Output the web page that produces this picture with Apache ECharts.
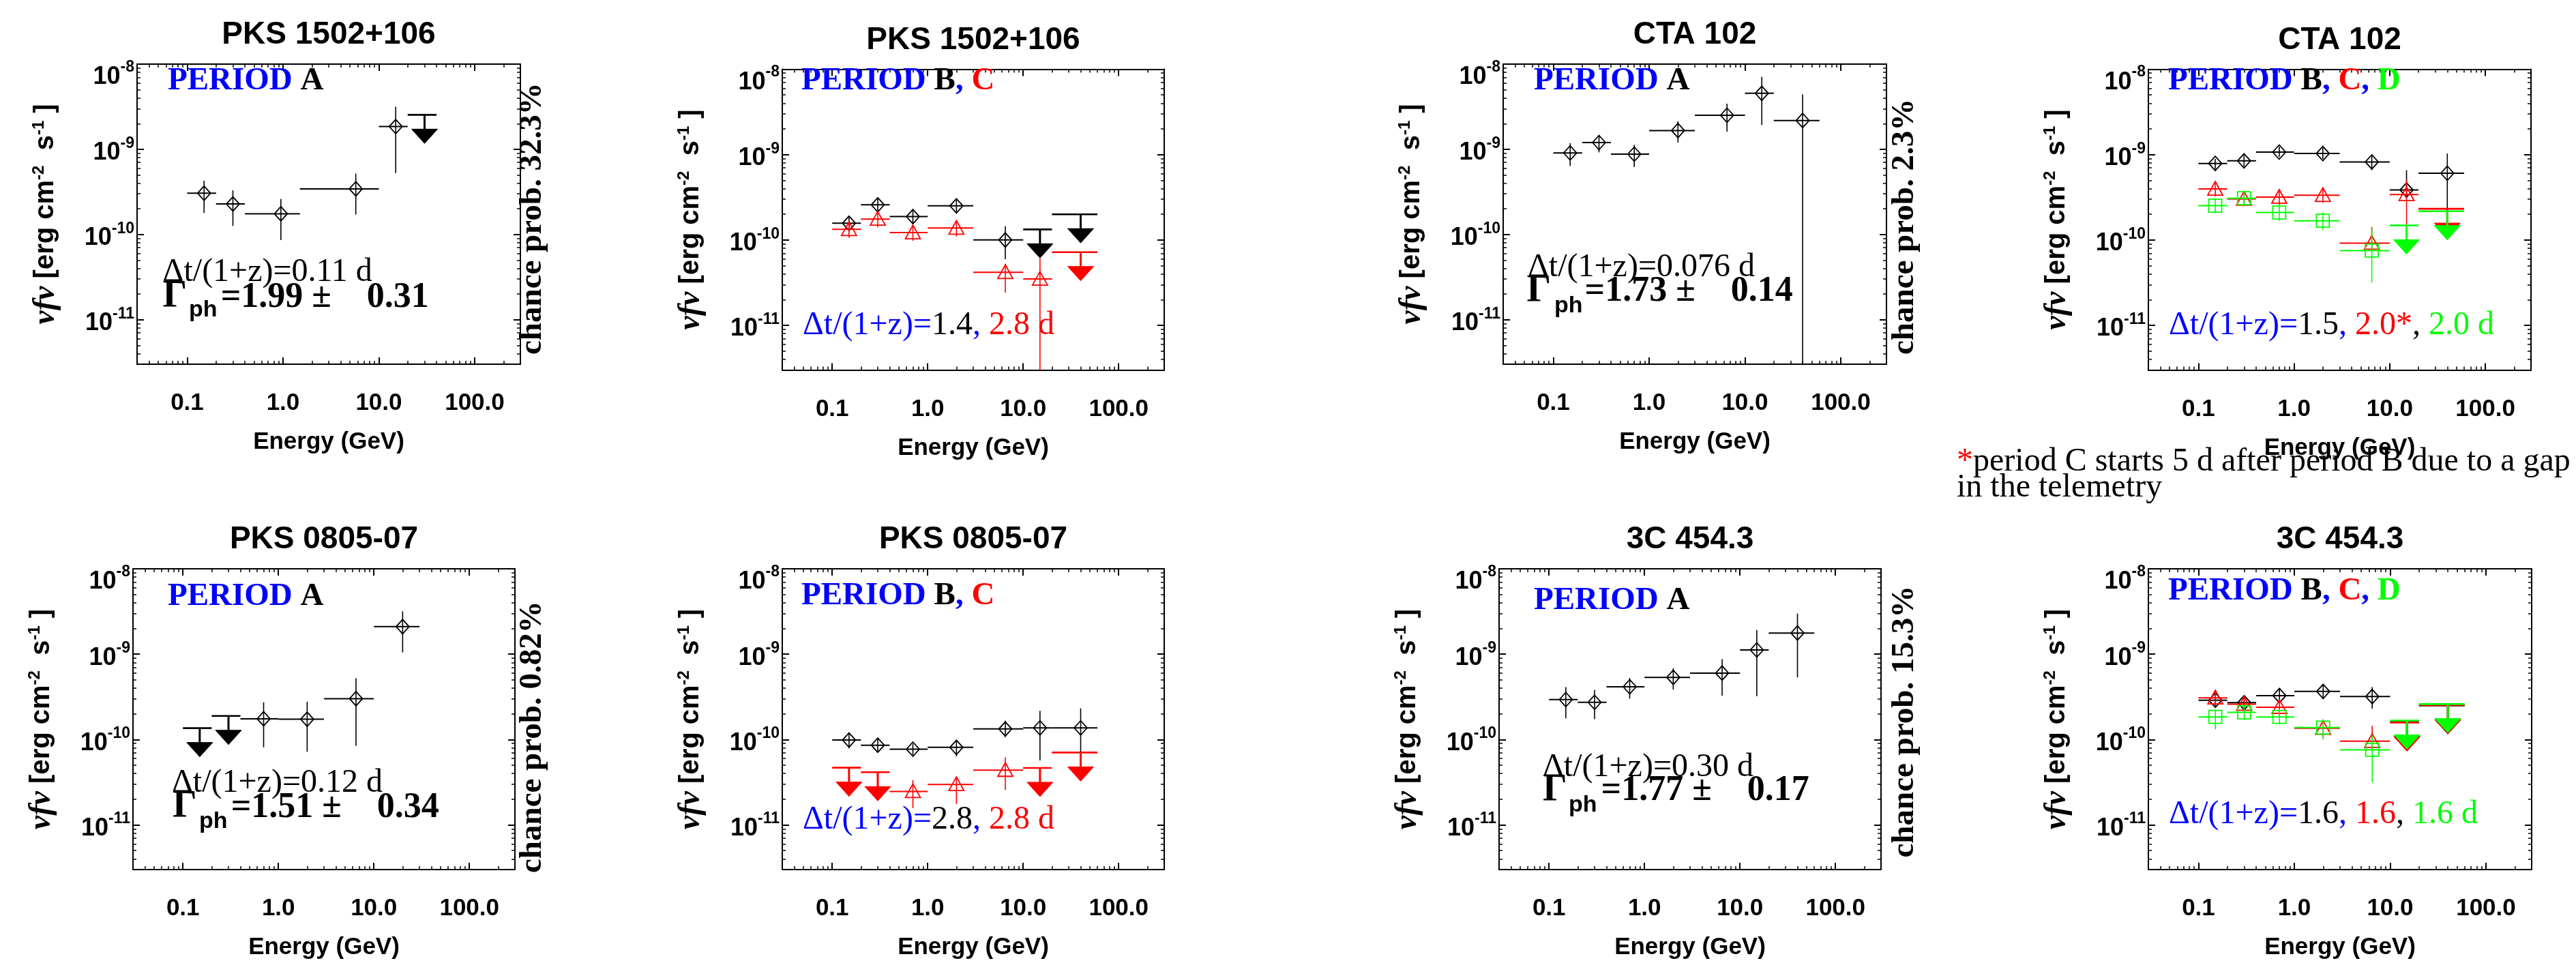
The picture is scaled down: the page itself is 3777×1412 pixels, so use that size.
<!DOCTYPE html>
<html>
<head>
<meta charset="utf-8">
<script src="https://cdn.jsdelivr.net/npm/echarts@6/dist/echarts.min.js"></script>
<style>html,body{margin:0;padding:0;background:#fff}#c{width:3777px;height:1412px}</style>
</head>
<body>
<div id="c"></div>
<script>
// ===================== DATA =====================
const X_MIN = 0.03, X_MAX = 300;
const Y_MIN = 3e-12, Y_MAX = 1e-8;
const X_TICKS = [0.1, 1, 10, 100];
const X_TICK_LABELS = ['0.1', '1.0', '10.0', '100.0'];
const X_MINOR = [0.04, 0.05, 0.06, 0.07, 0.08, 0.09, 0.2, 0.3, 0.4, 0.5, 0.6, 0.7, 0.8, 0.9,
                 2, 3, 4, 5, 6, 7, 8, 9, 20, 30, 40, 50, 60, 70, 80, 90, 200];
const Y_TICKS = [1e-11, 1e-10, 1e-9, 1e-8];
const Y_TICK_EXP = ['-11', '-10', '-9', '-8'];
const Y_MINOR = [4e-12, 5e-12, 6e-12, 7e-12, 8e-12, 9e-12,
                 2e-11, 3e-11, 4e-11, 5e-11, 6e-11, 7e-11, 8e-11, 9e-11,
                 2e-10, 3e-10, 4e-10, 5e-10, 6e-10, 7e-10, 8e-10, 9e-10,
                 2e-9, 3e-9, 4e-9, 5e-9, 6e-9, 7e-9, 8e-9, 9e-9];

const TITLES = ['PKS 1502+106', 'PKS 1502+106', 'CTA 102', 'CTA 102',
                'PKS 0805-07', 'PKS 0805-07', '3C 454.3', '3C 454.3'];

// energy bins (GeV): point energy, bin low, bin high
const E_STD    = [0.15, 0.3, 0.7, 2.0, 6.5, 15, 40];
const E_STD_LO = [0.1, 0.2, 0.4, 1, 3, 10, 20];
const E_STD_HI = [0.2, 0.4, 1, 3, 10, 20, 60];
const E_P1     = [0.15, 0.3, 0.95, 5.75, 15, 30];
const E_P1_LO  = [0.1, 0.2, 0.4, 1.5, 10, 20];
const E_P1_HI  = [0.2, 0.4, 1.5, 10, 20, 40];
const E_P5     = [0.15, 0.3, 0.7, 2.0, 6.5, 20];
const E_P5_LO  = [0.1, 0.2, 0.4, 1, 3, 10];
const E_P5_HI  = [0.2, 0.4, 1, 3, 10, 30];

// flux nuFnu (erg cm^-2 s^-1); LO/HI = error bar ends; UL = 1 for upper limit (value = limit)
// Panel 1: PKS 1502+106, period A
const P1A_F  = [3.05e-10, 2.28e-10, 1.75e-10, 3.43e-10, 1.85e-9, 2.54e-9];
const P1A_LO = [1.79e-10, 1.26e-10, 8.6e-11, 1.71e-10, 5.26e-10, null];
const P1A_HI = [4.27e-10, 3.3e-10, 2.61e-10, 5.18e-10, 3.16e-9, null];
const P1A_UL = [0, 0, 0, 0, 0, 1];
// Panel 2: PKS 1502+106, periods B (black) and C (red)
const P2B_F  = [1.57e-10, 2.58e-10, 1.88e-10, 2.51e-10, 1.0e-10, 1.33e-10, 2.0e-10];
const P2B_LO = [1.33e-10, 2.13e-10, 1.54e-10, 2.05e-10, 5.96e-11, null, null];
const P2B_HI = [1.85e-10, 3.08e-10, 2.26e-10, 2.96e-10, 1.45e-10, null, null];
const P2B_UL = [0, 0, 0, 0, 0, 1, 1];
const P2C_F  = [1.33e-10, 1.76e-10, 1.22e-10, 1.38e-10, 4.18e-11, 3.49e-11, 7.2e-11];
const P2C_LO = [1.06e-10, 1.41e-10, 9.8e-11, 1.1e-10, 2.41e-11, 1e-12, null];
const P2C_HI = [1.54e-10, 2.13e-10, 1.47e-10, 1.63e-10, 5.26e-11, 6.1e-11, null];
const P2C_UL = [0, 0, 0, 0, 0, 0, 1];
// Panel 3: CTA 102, period A
const P3A_F  = [9.06e-10, 1.2e-9, 8.77e-10, 1.66e-9, 2.51e-9, 4.54e-9, 2.18e-9];
const P3A_LO = [6.37e-10, 9.2e-10, 6.2e-10, 1.2e-9, 1.61e-9, 1.93e-9, 1e-12];
const P3A_HI = [1.18e-9, 1.45e-9, 1.13e-9, 2.13e-9, 3.43e-9, 7.08e-9, 4.4e-9];
const P3A_UL = [0, 0, 0, 0, 0, 0, 0];
// Panel 4: CTA 102, periods B (black), C (red), D (green)
const P4B_F  = [7.87e-10, 8.45e-10, 1.07e-9, 1.03e-9, 8.2e-10, 3.85e-10, 6.05e-10];
const P4B_LO = [6.76e-10, 7.27e-10, 9.35e-10, 8.89e-10, 6.57e-10, 3.08e-10, 2.28e-10];
const P4B_HI = [8.9e-10, 9.84e-10, 1.24e-9, 1.2e-9, 9.84e-10, 6.57e-10, 1.03e-9];
const P4B_UL = [0, 0, 0, 0, 0, 0, 0];
const P4C_F  = [3.96e-10, 3.02e-10, 3.18e-10, 3.34e-10, 9.19e-11, 3.41e-10, 2.32e-10];
const P4C_LO = [3.24e-10, 2.52e-10, 2.57e-10, 2.73e-10, 7.5e-11, 1.52e-10, null];
const P4C_HI = [4.85e-10, 3.59e-10, 3.77e-10, 3.97e-10, 1.42e-10, 5.1e-10, null];
const P4C_UL = [0, 0, 0, 0, 0, 0, 1];
const P4D_F  = [2.52e-10, 3.08e-10, 2.1e-10, 1.68e-10, 7.51e-11, 1.48e-10, 2.17e-10];
const P4D_LO = [2.06e-10, 2.47e-10, 1.68e-10, 1.31e-10, 3.18e-11, null, null];
const P4D_HI = [3.08e-10, 3.7e-10, 2.65e-10, 2.1e-10, 1.37e-10, null, null];
const P4D_UL = [0, 0, 0, 0, 0, 1, 1];
// Panel 5: PKS 0805-07, period A
const P5A_F  = [1.36e-10, 1.89e-10, 1.75e-10, 1.73e-10, 3.01e-10, 2.1e-9];
const P5A_LO = [null, null, 8.1e-11, 7.2e-11, 8.46e-11, 1.05e-9];
const P5A_HI = [null, null, 2.73e-10, 2.77e-10, 5.22e-10, 3.17e-9];
const P5A_UL = [1, 1, 0, 0, 0, 0];
// Panel 6: PKS 0805-07, periods B (black) and C (red)
const P6B_F  = [9.87e-11, 8.59e-11, 7.71e-11, 8.1e-11, 1.33e-10, 1.37e-10, 1.37e-10];
const P6B_LO = [7.9e-11, 7.17e-11, 6.6e-11, 6.34e-11, 1.07e-10, 5.7e-11, 3.6e-11];
const P6B_HI = [1.16e-10, 1.01e-10, 8.95e-11, 9.8e-11, 1.66e-10, 2.17e-10, 2.32e-10];
const P6B_UL = [0, 0, 0, 0, 0, 0, 0];
const P6C_F  = [4.68e-11, 4.14e-11, 2.47e-11, 2.98e-11, 4.38e-11, 4.65e-11, 7.05e-11];
const P6C_LO = [null, null, 1.57e-11, 1.76e-11, 2.57e-11, null, null];
const P6C_HI = [null, null, 3.34e-11, 3.6e-11, 6.18e-11, null, null];
const P6C_UL = [1, 1, 0, 0, 0, 1, 1];
// Panel 7: 3C 454.3, period A
const P7A_F  = [2.94e-10, 2.73e-10, 4.15e-10, 5.35e-10, 6.0e-10, 1.12e-9, 1.77e-9];
const P7A_LO = [1.77e-10, 1.73e-10, 3.01e-10, 3.85e-10, 3.27e-10, 3.22e-10, 5.35e-10];
const P7A_HI = [4.11e-10, 3.8e-10, 5.26e-10, 6.84e-10, 8.75e-10, 1.91e-9, 2.99e-9];
const P7A_UL = [0, 0, 0, 0, 0, 0, 0];
// Panel 8: 3C 454.3, periods B (black), C (red), D (green)
const P8B_F  = [2.89e-10, 2.7e-10, 3.27e-10, 3.66e-10, 3.19e-10, 1.6e-10, 2.51e-10];
const P8B_LO = [2.45e-10, 2.26e-10, 2.73e-10, 3.01e-10, 2.3e-10, null, null];
const P8B_HI = [3.55e-10, 3.27e-10, 3.92e-10, 4.36e-10, 4.12e-10, null, null];
const P8B_UL = [0, 0, 0, 0, 0, 1, 1];
const P8C_F  = [3.08e-10, 2.6e-10, 2.39e-10, 1.36e-10, 9.55e-11, 1.58e-10, 2.53e-10];
const P8C_LO = [2.55e-10, 2.08e-10, 1.91e-10, 1.04e-10, 7.5e-11, null, null];
const P8C_HI = [3.7e-10, 3.27e-10, 3.0e-10, 1.69e-10, 1.45e-10, null, null];
const P8C_UL = [0, 0, 0, 0, 0, 1, 1];
const P8D_F  = [1.84e-10, 2.08e-10, 1.84e-10, 1.38e-10, 7.58e-11, 1.67e-10, 2.6e-10];
const P8D_LO = [1.32e-10, 1.69e-10, 1.51e-10, 1.0e-10, 3.15e-11, null, null];
const P8D_HI = [2.26e-10, 2.56e-10, 2.26e-10, 1.73e-10, 1.12e-10, null, null];
const P8D_UL = [0, 0, 0, 0, 0, 1, 1];

// annotation texts
const GAMMA_TEXT  = ['=1.99 \u00b1    0.31', null, '=1.73 \u00b1    0.14', null, '=1.51 \u00b1    0.34', null, '=1.77 \u00b1    0.17', null];
const CHANCE_TEXT = ['chance prob. 32.3%', null, 'chance prob. 2.3%', null, 'chance prob. 0.82%', null, 'chance prob. 15.3%', null];

// ===================== STYLE / LAYOUT =====================
const SANS = "'Liberation Sans', Arial, Helvetica, sans-serif";
const SERIF = "'Liberation Serif', 'Times New Roman', Times, serif";
const BLUE = '#0000ff', RED = '#ff0000', GREEN = '#00ff00', BLACK = '#000000';

const PERIOD_TOKENS = {
  A: [['PERIOD ', BLUE], ['A', BLACK]],
  BC: [['PERIOD ', BLUE], ['B', BLACK], [', ', BLUE], ['C', RED]],
  BCD: [['PERIOD ', BLUE], ['B', BLACK], [', ', BLUE], ['C', RED], [', ', BLUE], ['D', GREEN]]
};
const DT_TOKENS = [
  [['\u0394t/(1+z)=0.11 d', BLACK]],
  [['\u0394t/(1+z)=', BLUE], ['1.4', BLACK], [', ', BLUE], ['2.8 d', RED]],
  [['\u0394t/(1+z)=0.076 d', BLACK]],
  [['\u0394t/(1+z)=', BLUE], ['1.5', BLACK], [', ', BLUE], ['2.0*', RED], [', ', BLACK], ['2.0 d', GREEN]],
  [['\u0394t/(1+z)=0.12 d', BLACK]],
  [['\u0394t/(1+z)=', BLUE], ['2.8', BLACK], [', ', BLUE], ['2.8 d', RED]],
  [['\u0394t/(1+z)=0.30 d', BLACK]],
  [['\u0394t/(1+z)=', BLUE], ['1.6', BLACK], [', ', BLUE], ['1.6', RED], [', ', BLACK], ['1.6 d', GREEN]]
];

// box: [left, top, width, height]; text anchors are [x, baseline]
const LAYOUT = [
  {box: [201, 94, 562, 440], period: 'A', pos: [246, 135], dt: [238.6, 416], gam: [238.6, 455], ph: [277, 466], val: [323.7, 454.5], chance: [797, 520]},
  {box: [1147, 101.5, 560, 441], period: 'BC', pos: [1175, 135], dt: [1177, 493.3]},
  {box: [2204, 94, 562, 440], period: 'A', pos: [2249, 135], dt: [2240, 408.5], gam: [2238.5, 446.4], ph: [2279, 460], val: [2323.6, 445.5], chance: [2809, 520]},
  {box: [3150, 101.5, 561, 441], period: 'BCD', pos: [3179, 134.4], dt: [3180, 493.6]},
  {box: [195, 834, 560, 441], period: 'A', pos: [246, 890.6], dt: [252, 1165], gam: [253, 1203], ph: [292, 1216.5], val: [338.7, 1202], chance: [797, 1280]},
  {box: [1147, 834, 560, 441], period: 'BC', pos: [1175, 889.7], dt: [1177, 1218.7]},
  {box: [2198, 834, 560, 441], period: 'A', pos: [2249, 897.3], dt: [2262, 1141.5], gam: [2262, 1178.5], ph: [2300, 1192], val: [2347.6, 1177.6], chance: [2809, 1257.5]},
  {box: [3150, 834, 562, 441], period: 'BCD', pos: [3179, 882.5], dt: [3180, 1211]}
];

// ===================== BUILD =====================
const K_MID = 0.34; // baseline -> middle offset (fraction of font size)

function near(v, arr) {
  for (let i = 0; i < arr.length; i++) {
    if (Math.abs(Math.log10(v) - Math.log10(arr[i])) < 1e-6) return i;
  }
  return -1;
}
function fmtX(v) { const i = near(v, X_TICKS); return i >= 0 ? X_TICK_LABELS[i] : ''; }
function fmtY(v) {
  const i = near(v, Y_TICKS);
  if (i < 0) return '';
  // the top label sits a little lower (inside the frame), as in the original
  return i === Y_TICKS.length - 1 ? '{bt|10}{st|' + Y_TICK_EXP[i] + '}' : '{b|10}{s|' + Y_TICK_EXP[i] + '}';
}

const grids = [], xAxes = [], yAxes = [], series = [], gfx = [];

const lineSt = {color: '#000', width: 2};
const majTick = (vals) => ({show: true, inside: true, length: 10, customValues: vals, lineStyle: {color: '#000', width: 2}});
const minTick = (vals) => ({show: true, inside: true, length: 5, customValues: vals, lineStyle: {color: '#000', width: 1.5}});

function richText(tokens, x, base, weight, size) {
  const rich = {};
  let text = '';
  tokens.forEach((t, k) => {
    rich['t' + k] = {fill: t[1], fontFamily: SERIF, fontWeight: weight, fontSize: size};
    text += '{t' + k + '|' + t[0] + '}';
  });
  return {type: 'text', x: x, y: base - K_MID * size, z: 50,
    style: {text: text, rich: rich, font: weight + ' ' + size + 'px ' + SERIF, fill: '#000', align: 'left', verticalAlign: 'middle'}};
}

const YRICH = {
  b:  {fontFamily: SANS, fontWeight: 'bold', fontSize: 36, lineHeight: 36, color: '#000', padding: [11, 0, 0, 0]},
  s:  {fontFamily: SANS, fontWeight: 'bold', fontSize: 23, lineHeight: 36, color: '#000', padding: [0, 0, 17, 0]},
  bt: {fontFamily: SANS, fontWeight: 'bold', fontSize: 36, lineHeight: 36, color: '#000', padding: [39, 0, 0, 0]},
  st: {fontFamily: SANS, fontWeight: 'bold', fontSize: 23, lineHeight: 36, color: '#000', padding: [9, 0, 0, 0]}
};

LAYOUT.forEach((L, g) => {
  const [bx, by, bw, bh] = L.box;
  grids.push({left: bx, top: by, width: bw, height: bh, containLabel: false, outerBoundsMode: 'none', show: false});
  const cx = {type: 'log', logBase: 10, gridIndex: g, min: X_MIN, max: X_MAX, splitLine: {show: false},
              minorTick: {show: false}, minorSplitLine: {show: false}, silent: true};
  xAxes.push(Object.assign({}, cx, {
    position: 'bottom', axisLine: {show: true, onZero: false, lineStyle: lineSt}, axisTick: majTick(X_TICKS),
    axisLabel: {show: true, customValues: X_TICKS, formatter: fmtX, margin: 40, color: '#000',
                fontFamily: SANS, fontWeight: 'bold', fontSize: 35, hideOverlap: false},
    name: 'Energy (GeV)', nameLocation: 'middle', nameGap: 97,
    nameTextStyle: {color: '#000', fontFamily: SANS, fontWeight: 'bold', fontSize: 35}
  }));
  xAxes.push(Object.assign({}, cx, {position: 'bottom', axisLine: {show: false}, axisTick: minTick(X_MINOR), axisLabel: {show: false}}));
  xAxes.push(Object.assign({}, cx, {position: 'top', axisLine: {show: true, onZero: false, lineStyle: lineSt}, axisTick: majTick(X_TICKS), axisLabel: {show: false}}));
  xAxes.push(Object.assign({}, cx, {position: 'top', axisLine: {show: false}, axisTick: minTick(X_MINOR), axisLabel: {show: false}}));

  const cy = {type: 'log', logBase: 10, gridIndex: g, min: Y_MIN, max: Y_MAX, splitLine: {show: false},
              minorTick: {show: false}, minorSplitLine: {show: false}, silent: true};
  yAxes.push(Object.assign({}, cy, {
    position: 'left', axisLine: {show: true, onZero: false, lineStyle: lineSt}, axisTick: majTick(Y_TICKS),
    axisLabel: {show: true, customValues: Y_TICKS, formatter: fmtY, margin: 4, color: '#000', hideOverlap: false,
                rich: YRICH},
    name: '{g|\u03bdf\u03bd} {b|[erg cm}{s|-2}{b|  s}{s|-1} {b|]}', nameLocation: 'middle', nameGap: 112, nameRotate: 90,
    nameTextStyle: {color: '#000', fontFamily: SANS, fontWeight: 'bold', fontSize: 40,
      rich: {
        g: {fontFamily: SERIF, fontStyle: 'italic', fontWeight: 'bold', fontSize: 46, lineHeight: 44, color: '#000'},
        b: {fontFamily: SANS, fontWeight: 'bold', fontSize: 40, lineHeight: 44, color: '#000'},
        s: {fontFamily: SANS, fontWeight: 'bold', fontSize: 24, lineHeight: 14, verticalAlign: 'top', color: '#000'}
      }}
  }));
  yAxes.push(Object.assign({}, cy, {position: 'left', axisLine: {show: false}, axisTick: minTick(Y_MINOR), axisLabel: {show: false}}));
  yAxes.push(Object.assign({}, cy, {position: 'right', axisLine: {show: true, onZero: false, lineStyle: lineSt}, axisTick: majTick(Y_TICKS), axisLabel: {show: false}}));
  yAxes.push(Object.assign({}, cy, {position: 'right', axisLine: {show: false}, axisTick: minTick(Y_MINOR), axisLabel: {show: false}}));

  // title
  gfx.push({type: 'text', x: bx + bw / 2, y: by - 27 - K_MID * 46, z: 50,
    style: {text: TITLES[g], fill: '#000', font: 'bold 46px ' + SANS, align: 'center', verticalAlign: 'middle'}});

  gfx.push(richText(PERIOD_TOKENS[L.period], L.pos[0], L.pos[1], 'bold', 47));
  gfx.push(richText(DT_TOKENS[g], L.dt[0], L.dt[1], 'normal', 48));
  if (L.gam) {
    gfx.push({type: 'text', x: L.gam[0], y: L.gam[1] - K_MID * 56, z: 50,
      style: {text: '\u0393', fill: '#000', font: 'bold 56px ' + SERIF, align: 'left', verticalAlign: 'middle'}});
    gfx.push({type: 'text', x: L.ph[0], y: L.ph[1] - K_MID * 34, z: 50,
      style: {text: 'ph', fill: '#000', font: 'bold 34px ' + SANS, align: 'left', verticalAlign: 'middle'}});
    gfx.push({type: 'text', x: L.val[0], y: L.val[1] - K_MID * 52, z: 50,
      style: {text: GAMMA_TEXT[g], fill: '#000', font: 'bold 52px ' + SERIF, align: 'left', verticalAlign: 'middle'}});
    gfx.push({type: 'text', x: L.chance[0] - K_MID * 47, y: L.chance[1], rotation: Math.PI / 2, z: 50,
      style: {text: CHANCE_TEXT[g], fill: '#000', font: 'bold 47px ' + SERIF, align: 'left', verticalAlign: 'middle'}});
  }
});

// footnote
gfx.push({type: 'text', x: 2869, y: 694 - K_MID * 48, z: 50,
  style: {text: '{r|*}{k|period C starts 5 d after period B due to a gap}',
    rich: {r: {fill: RED, fontFamily: SERIF, fontSize: 48}, k: {fill: BLACK, fontFamily: SERIF, fontSize: 48}},
    font: '48px ' + SERIF, align: 'left', verticalAlign: 'middle'}});
gfx.push({type: 'text', x: 2869, y: 732 - K_MID * 48, z: 50,
  style: {text: 'in the telemetry', fill: BLACK, font: '48px ' + SERIF, align: 'left', verticalAlign: 'middle'}});

// series
function makeSeries(g, E, ELO, EHI, F, FLO, FHI, UL, color, marker) {
  const data = E.map((e, i) => [e, F[i], ELO[i], EHI[i], FLO[i] == null ? 0 : FLO[i], FHI[i] == null ? 0 : FHI[i], UL[i]]);
  return {
    type: 'custom', xAxisIndex: g * 4, yAxisIndex: g * 4, data: data, silent: true, animation: false, z: 10,
    encode: {x: 0, y: 1},
    renderItem: function (params, api) {
      const cs = params.coordSys;
      const e = api.value(0), f = api.value(1), elo = api.value(2), ehi = api.value(3);
      const flo = api.value(4), fhi = api.value(5), ul = api.value(6);
      const p = api.coord([e, f]);
      const pl = api.coord([elo, f]);
      const pr = api.coord([ehi, f]);
      const kids = [];
      if (ul) {
        kids.push({type: 'line', shape: {x1: pl[0], y1: p[1], x2: pr[0], y2: p[1]}, style: {stroke: color, lineWidth: 2.6}});
        kids.push({type: 'line', shape: {x1: p[0], y1: p[1], x2: p[0], y2: p[1] + 26}, style: {stroke: color, lineWidth: 3}});
        kids.push({type: 'polygon', shape: {points: [[p[0] - 19, p[1] + 21], [p[0] + 19, p[1] + 21], [p[0], p[1] + 42]]},
          style: {fill: color, stroke: color, lineWidth: 1}});
      } else {
        kids.push({type: 'line', shape: {x1: pl[0], y1: p[1], x2: pr[0], y2: p[1]}, style: {stroke: color, lineWidth: 2}});
        const ptop = api.coord([e, fhi]);
        const pbot = api.coord([e, flo]);
        const yb = Math.min(pbot[1], cs.y + cs.height);
        kids.push({type: 'line', shape: {x1: p[0], y1: ptop[1], x2: p[0], y2: yb}, style: {stroke: color, lineWidth: 1.6}});
        let pts;
        const x = p[0], y = p[1];
        if (marker === 'diamond') pts = [[x, y - 10.5], [x + 9.5, y], [x, y + 10.5], [x - 9.5, y]];
        else if (marker === 'triangle') pts = [[x, y - 11], [x + 11, y + 9], [x - 11, y + 9]];
        else pts = [[x - 9.5, y - 9.5], [x + 9.5, y - 9.5], [x + 9.5, y + 9.5], [x - 9.5, y + 9.5]];
        kids.push({type: 'polygon', shape: {points: pts}, style: {fill: 'none', stroke: color, lineWidth: 1.8}});
      }
      return {type: 'group', children: kids};
    }
  };
}

series.push(makeSeries(0, E_P1, E_P1_LO, E_P1_HI, P1A_F, P1A_LO, P1A_HI, P1A_UL, BLACK, 'diamond'));
series.push(makeSeries(1, E_STD, E_STD_LO, E_STD_HI, P2B_F, P2B_LO, P2B_HI, P2B_UL, BLACK, 'diamond'));
series.push(makeSeries(1, E_STD, E_STD_LO, E_STD_HI, P2C_F, P2C_LO, P2C_HI, P2C_UL, RED, 'triangle'));
series.push(makeSeries(2, E_STD, E_STD_LO, E_STD_HI, P3A_F, P3A_LO, P3A_HI, P3A_UL, BLACK, 'diamond'));
series.push(makeSeries(3, E_STD, E_STD_LO, E_STD_HI, P4B_F, P4B_LO, P4B_HI, P4B_UL, BLACK, 'diamond'));
series.push(makeSeries(3, E_STD, E_STD_LO, E_STD_HI, P4C_F, P4C_LO, P4C_HI, P4C_UL, RED, 'triangle'));
series.push(makeSeries(3, E_STD, E_STD_LO, E_STD_HI, P4D_F, P4D_LO, P4D_HI, P4D_UL, GREEN, 'square'));
series.push(makeSeries(4, E_P5, E_P5_LO, E_P5_HI, P5A_F, P5A_LO, P5A_HI, P5A_UL, BLACK, 'diamond'));
series.push(makeSeries(5, E_STD, E_STD_LO, E_STD_HI, P6B_F, P6B_LO, P6B_HI, P6B_UL, BLACK, 'diamond'));
series.push(makeSeries(5, E_STD, E_STD_LO, E_STD_HI, P6C_F, P6C_LO, P6C_HI, P6C_UL, RED, 'triangle'));
series.push(makeSeries(6, E_STD, E_STD_LO, E_STD_HI, P7A_F, P7A_LO, P7A_HI, P7A_UL, BLACK, 'diamond'));
series.push(makeSeries(7, E_STD, E_STD_LO, E_STD_HI, P8B_F, P8B_LO, P8B_HI, P8B_UL, BLACK, 'diamond'));
series.push(makeSeries(7, E_STD, E_STD_LO, E_STD_HI, P8C_F, P8C_LO, P8C_HI, P8C_UL, RED, 'triangle'));
series.push(makeSeries(7, E_STD, E_STD_LO, E_STD_HI, P8D_F, P8D_LO, P8D_HI, P8D_UL, GREEN, 'square'));

const chart = echarts.init(document.getElementById('c'), null, {renderer: 'canvas', width: 3777, height: 1412});
chart.setOption({
  backgroundColor: '#ffffff',
  animation: false,
  textStyle: {fontFamily: SANS},
  grid: grids,
  xAxis: xAxes,
  yAxis: yAxes,
  series: series,
  graphic: {elements: gfx}
});
</script>
</body>
</html>
